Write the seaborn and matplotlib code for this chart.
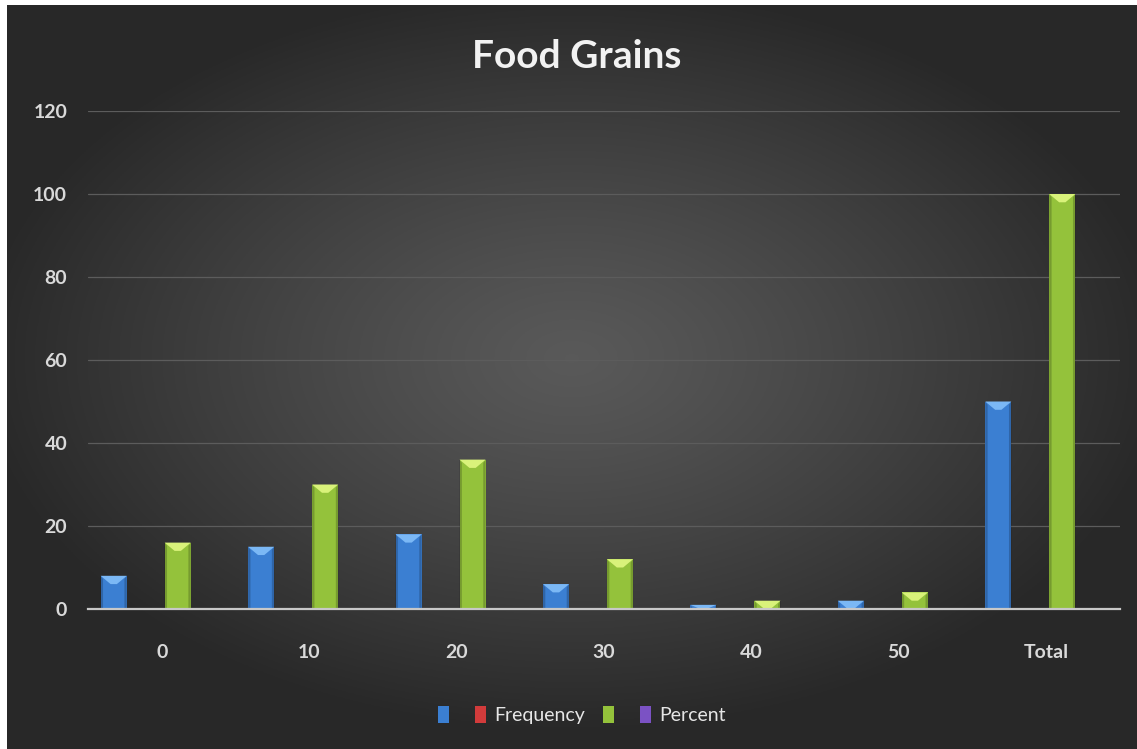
import numpy as np
import pandas as pd
import matplotlib
matplotlib.use("Agg")
import matplotlib.pyplot as plt
from matplotlib.patches import Patch, Polygon
import seaborn as sns

# Chart data
categories = ["0", "10", "20", "30", "40", "50", "Total"]
series_names = ["Count", "Frequency", "Share", "Percent"]
count_values = [8, 15, 18, 6, 1, 2, 50]
frequency_values = [np.nan] * 7
share_values = [16, 30, 36, 12, 2, 4, 100]
percent_values = [np.nan] * 7
legend_labels = ["", "Frequency", "", "Percent"]
y_ticks = [0, 20, 40, 60, 80, 100, 120]

colors = ["#3b7fd2", "#d23b3b", "#94c23b", "#7b52c4"]
highlights = ["#7bb8f5", "#f07a7a", "#d9f27a", "#b18cf0"]

df = pd.DataFrame({
    "category": categories * 4,
    "series": np.repeat(series_names, len(categories)),
    "value": count_values + frequency_values + share_values + percent_values,
})

sns.set_theme(style="dark")
plt.rcParams["font.family"] = ["Lato", "DejaVu Sans"]

W, H = 1137, 749
fig = plt.figure(figsize=(W / 100, H / 100), dpi=100)
fig.patch.set_facecolor("white")

# Dark radial-gradient backdrop
bg = fig.add_axes([7 / W, 0, (W - 7) / W, (H - 5) / H])
gx, gy = np.meshgrid(np.linspace(-1, 1, 600), np.linspace(-1, 1, 400))
r = np.sqrt((gx * 1.0) ** 2 + ((gy + 0.05) * 1.05) ** 2)
shade = np.clip(0.35 - 0.18 * r ** 1.2, 0.16, 0.36)
bg.imshow(np.dstack([shade] * 3), aspect="auto", extent=[0, 1, 0, 1])
bg.set_axis_off()

ax = fig.add_axes([88 / W, (H - 609) / H, (1120 - 88) / W, 498 / H])
ax.set_facecolor("none")

sns.barplot(data=df, x="category", y="value", hue="series",
            order=categories, hue_order=series_names, palette=colors,
            width=0.868, gap=0.185, linewidth=0, saturation=1,
            legend=False, ax=ax)

# Bevelled highlight on the top of each bar
rgb = [np.array(matplotlib.colors.to_rgb(c)) for c in colors]
for patch in ax.patches:
    h = patch.get_height()
    if not np.isfinite(h) or h <= 0:
        continue
    x0 = patch.get_x()
    w = patch.get_width()
    fc = np.array(patch.get_facecolor()[:3])
    idx = int(np.argmin([np.sum((c - fc) ** 2) for c in rgb]))
    d = min(2.0, h)
    ax.add_patch(Polygon([(x0, h), (x0 + w, h), (x0 + w * 0.62, h - d), (x0 + w * 0.38, h - d)],
                         closed=True, facecolor=highlights[idx], edgecolor="none", zorder=3))
    # darker side edges
    for xa, xb in [(x0, x0 + w * 0.09), (x0 + w, x0 + w * 0.91)]:
        ax.add_patch(Polygon([(xa, 0), (xa, h), (xb, h - min(0.8, h)), (xb, 0)],
                             closed=True, facecolor="black", alpha=0.2,
                             edgecolor="none", zorder=3))

ax.set_ylim(0, 120)
ax.set_xlim(-0.5, len(categories) - 0.5)
ax.set_yticks(y_ticks)
ax.yaxis.grid(True, color="#5c5c5c", linewidth=0.9)
ax.xaxis.grid(False)
ax.set_axisbelow(True)
for s in ["top", "right", "left"]:
    ax.spines[s].set_visible(False)
ax.spines["bottom"].set_color("#c8c8c8")
ax.spines["bottom"].set_linewidth(1.6)
ax.spines["bottom"].set_zorder(5)
ax.tick_params(axis="both", length=0, colors="#d9d9d9", labelsize=14)
ax.tick_params(axis="y", pad=15)
ax.tick_params(axis="x", pad=25)
for lab in ax.get_xticklabels() + ax.get_yticklabels():
    lab.set_fontweight("bold")
ax.set_xlabel("")
ax.set_ylabel("")

fig.text(577 / W, 1 - 57 / H, "Food Grains", ha="center", va="center",
         fontsize=28, fontweight="bold", color="#f2f2f2")

handles = [Patch(facecolor=c, edgecolor="none") for c in colors]
leg = fig.legend(handles, legend_labels, loc="center", bbox_to_anchor=(582 / W, 1 - 715 / H),
                 ncol=4, frameon=False, fontsize=14, handlelength=0.55, handleheight=1.0,
                 handletextpad=0.45, columnspacing=0.9)
for t in leg.get_texts():
    t.set_color("#e6e6e6")

fig.savefig("out.png", dpi=100, facecolor=fig.get_facecolor())
